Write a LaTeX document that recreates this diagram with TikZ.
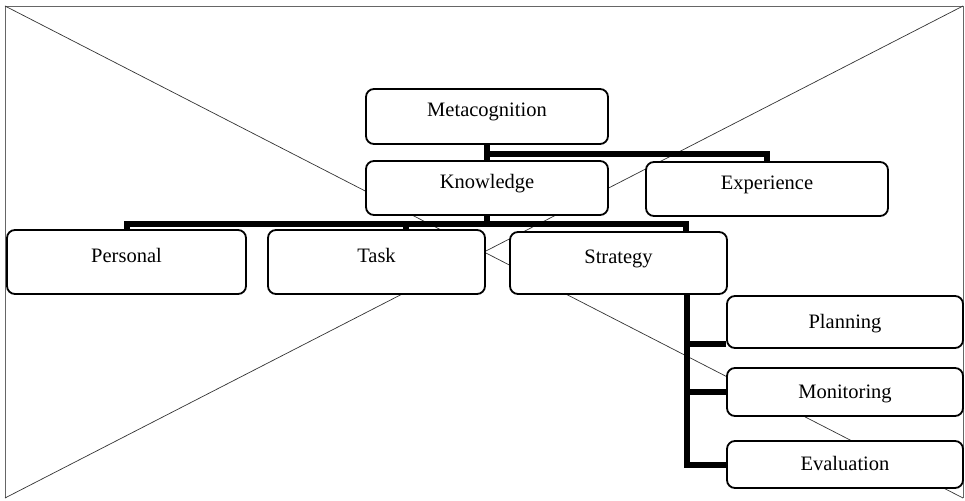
\documentclass[tikz,border=0pt]{standalone}
\usepackage{fontspec}
\setmainfont{Liberation Serif}
\begin{document}
\begin{tikzpicture}[x=1pt,y=-1pt,
  box/.style={draw, line width=1.8pt, rounded corners=8pt, fill=white, inner sep=0pt,
    font=\fontsize{20.5}{23}\selectfont, text height=8pt, text depth=8pt},
  lowbox/.style={box, text height=14pt, text depth=2pt},
  link/.style={line width=6pt},
  thinline/.style={line width=0.7pt, black!80}]
\useasboundingbox (0,0) rectangle (965,500);
\coordinate (tl) at (5,6);
\coordinate (tr) at (963,6);
\coordinate (bl) at (5,498);
\coordinate (br) at (963,498);
\draw[thinline, black!60] (bl) -- (tl) -- (tr) -- (br);
\draw[thinline] (tl) -- (br);
\draw[thinline] (tr) -- (bl);

\node[box, minimum width=242pt, minimum height=55pt] (meta) at (487,116.5) {Metacognition};
\node[box, minimum width=242pt, minimum height=54pt] (know) at (487,188) {Knowledge};
\node[box, minimum width=242pt, minimum height=54pt] (exp) at (767,189) {Experience};
\node[box, minimum width=239pt, minimum height=64pt] (pers) at (126.5,262) {Personal};
\node[box, minimum width=217pt, minimum height=64pt] (task) at (376.5,262) {Task};
\node[box, minimum width=217pt, minimum height=62pt] (strat) at (618.5,263) {Strategy};
\node[lowbox, minimum width=236pt, minimum height=52pt] (plan) at (845,322) {Planning};
\node[lowbox, minimum width=236pt, minimum height=48pt] (mon) at (845,392) {Monitoring};
\node[lowbox, minimum width=236pt, minimum height=47pt] (eval) at (845,464.5) {Evaluation};

\draw[link] (meta.south) -- (know.north);
\draw[link] ([yshift=-9.5pt]meta.south) -| (exp.north);
\draw[link] (know.south) -- ++(0,8);
\draw[link] (pers.north) |- ([yshift=-8pt]know.south) -| ([xshift=67.5pt]strat.north);
\draw[link] ([xshift=29.5pt]task.north) -- ++(0,-7);
\coordinate (sv) at ([xshift=68pt]strat.south);
\coordinate (pa) at ([yshift=4.5pt]plan.south west);
\draw[link] (sv) |- (eval.west);
\draw[link] (pa) -- (pa -| sv);
\draw[link] (mon.west) -- (mon.west -| sv);
\end{tikzpicture}
\end{document}
